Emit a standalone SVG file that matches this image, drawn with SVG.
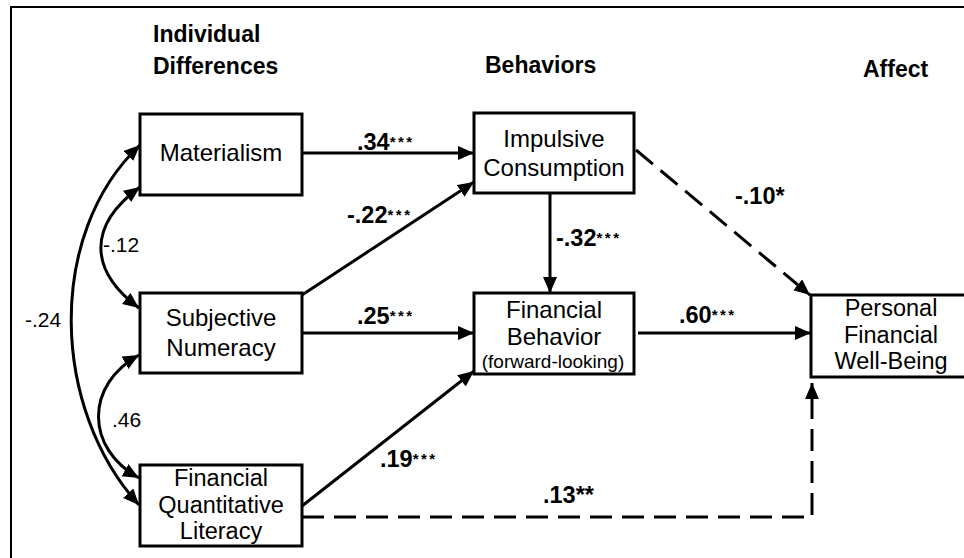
<svg xmlns="http://www.w3.org/2000/svg" width="964" height="558" viewBox="0 0 964 558">
<style>
  text { font-family: "Liberation Sans", Arial, sans-serif; fill: #000; }
  .hdr { font-size: 23px; font-weight: bold; }
  .nd { font-size: 24px; text-anchor: middle; }
  .nd3 { font-size: 23.5px; text-anchor: middle; }
  .sm { font-size: 19px; text-anchor: middle; }
  .box { fill: #fff; stroke: #000; stroke-width: 3; }
  .ln { fill: none; stroke: #000; stroke-width: 3; }
  .dash { stroke-dasharray: 22 10; }
  .coef { font-size: 23.5px; font-weight: bold; }
  .st { font-size: 15px; letter-spacing: 2.5px; }
  .cor { font-size: 21px; }
</style>
<defs>
  <marker id="ah" markerUnits="userSpaceOnUse" markerWidth="18" markerHeight="16" refX="16" refY="7" orient="auto-start-reverse">
    <path d="M0,0 L16,7 L0,14 z" fill="#000"/>
  </marker>
</defs>
<rect x="0" y="0" width="964" height="558" fill="#fff"/>
<rect x="11" y="7" width="970" height="570" fill="none" stroke="#000" stroke-width="2"/>

<g id="headers">
  <text class="hdr" x="153" y="42">Individual</text>
  <text class="hdr" x="153" y="74">Differences</text>
  <text class="hdr" x="485" y="73">Behaviors</text>
  <text class="hdr" x="863" y="77">Affect</text>
</g>

<g id="connectors">
  <path class="ln" d="M302,153 H474" marker-end="url(#ah)"/>
  <path class="ln" d="M302,295 L474,182" marker-end="url(#ah)"/>
  <path class="ln" d="M302,333 H474" marker-end="url(#ah)"/>
  <path class="ln" d="M302,506 L474,371" marker-end="url(#ah)"/>
  <path class="ln" d="M550,193 V293" marker-end="url(#ah)"/>
  <path class="ln" d="M638,333 H811" marker-end="url(#ah)"/>
  <path class="ln dash" d="M636,150 L810,295" marker-end="url(#ah)"/>
  <path class="ln dash" d="M302,517 H812 V383" marker-end="url(#ah)"/>
  <path class="ln" d="M140,187 C88,225 88,270 139,308" marker-start="url(#ah)" marker-end="url(#ah)"/>
  <path class="ln" d="M139,355 C85,385 85,448 139,478" marker-start="url(#ah)" marker-end="url(#ah)"/>
  <path class="ln" d="M140,145 C45,235 52,410 139,505" marker-start="url(#ah)" marker-end="url(#ah)"/>

  <text class="coef" x="357" y="150">.34<tspan class="st" dy="-3">***</tspan></text>
  <text class="coef" x="347" y="223">-.22<tspan class="st" dy="-3">***</tspan></text>
  <text class="coef" x="556" y="246">-.32<tspan class="st" dy="-3">***</tspan></text>
  <text class="coef" x="735" y="204">-.10*</text>
  <text class="coef" x="357" y="324">.25<tspan class="st" dy="-3">***</tspan></text>
  <text class="coef" x="679" y="323">.60<tspan class="st" dy="-3">***</tspan></text>
  <text class="coef" x="380" y="467">.19<tspan class="st" dy="-3">***</tspan></text>
  <text class="coef" x="543" y="503">.13**</text>
  <text class="cor" x="103" y="252">-.12</text>
  <text class="cor" x="25" y="327">-.24</text>
  <text class="cor" x="112" y="427">.46</text>
</g>

<g id="materialism">
  <rect class="box" x="140" y="114" width="162" height="81"/>
  <text class="nd" x="221" y="161">Materialism</text>
</g>
<g id="subjective-numeracy">
  <rect class="box" x="140" y="293" width="162" height="80"/>
  <text class="nd" x="221" y="326">Subjective</text>
  <text class="nd" x="221" y="356">Numeracy</text>
</g>
<g id="financial-quantitative-literacy">
  <rect class="box" x="140" y="465" width="162" height="81"/>
  <text class="nd3" x="221" y="486">Financial</text>
  <text class="nd3" x="221" y="512.5">Quantitative</text>
  <text class="nd3" x="221" y="539">Literacy</text>
</g>
<g id="impulsive-consumption">
  <rect class="box" x="474" y="113" width="160" height="80"/>
  <text class="nd" x="554" y="147">Impulsive</text>
  <text class="nd" x="554" y="176">Consumption</text>
</g>
<g id="financial-behavior">
  <rect class="box" x="474" y="293" width="160" height="81"/>
  <text class="nd" x="554" y="318">Financial</text>
  <text class="nd" x="554" y="345">Behavior</text>
  <text class="sm" x="553" y="368">(forward-looking)</text>
</g>
<g id="personal-financial-well-being">
  <rect class="box" x="811" y="295" width="170" height="82"/>
  <text class="nd3" x="891" y="316">Personal</text>
  <text class="nd3" x="891" y="342.5">Financial</text>
  <text class="nd3" x="891" y="369">Well-Being</text>
</g>
</svg>
